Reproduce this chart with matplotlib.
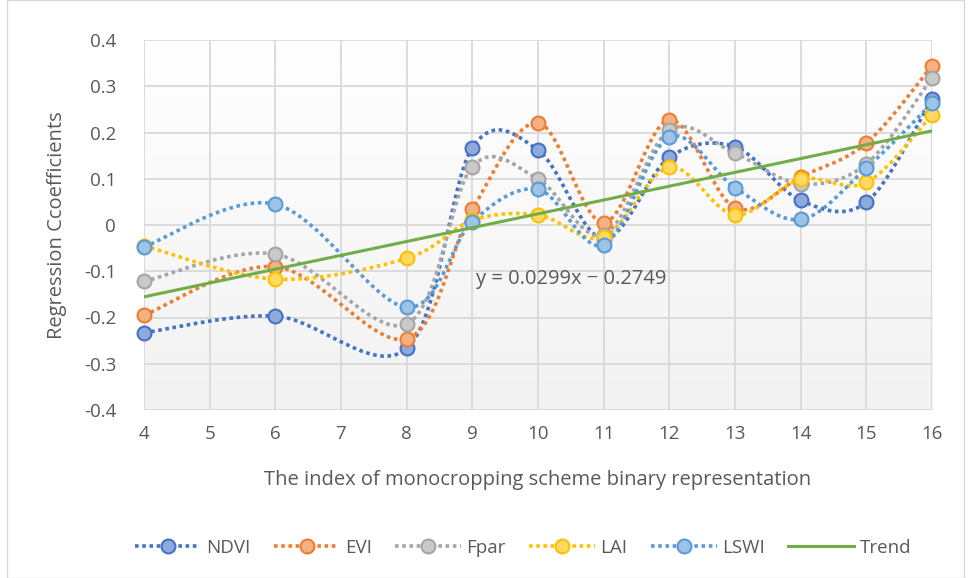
import numpy as np
import matplotlib.pyplot as plt
from matplotlib.patches import Rectangle
from matplotlib.lines import Line2D
from matplotlib.colors import LinearSegmentedColormap

plt.rcParams['font.family'] = ['Open Sans', 'DejaVu Sans']

# index of monocropping scheme
x_idx = [4, 6, 8, 9, 10, 11, 12, 13, 14, 15, 16]

ndvi = [-0.233, -0.197, -0.267, 0.167, 0.162, -0.030, 0.146, 0.169, 0.053, 0.049, 0.272]
evi = [-0.195, -0.090, -0.246, 0.034, 0.221, 0.005, 0.227, 0.037, 0.104, 0.177, 0.344]
fpar = [-0.122, -0.063, -0.214, 0.126, 0.099, -0.022, 0.205, 0.155, 0.089, 0.132, 0.318]
lai = [-0.045, -0.117, -0.072, 0.010, 0.022, -0.026, 0.125, 0.022, 0.099, 0.092, 0.238]
lswi = [-0.047, 0.045, -0.178, 0.007, 0.077, -0.043, 0.190, 0.081, 0.012, 0.123, 0.263]

trend_slope = 0.0299
trend_intercept = -0.2749

names = ['NDVI', 'EVI', 'Fpar', 'LAI', 'LSWI']
series = [ndvi, evi, fpar, lai, lswi]
colors = ['#4472C4', '#ED7D31', '#A5A5A5', '#FFC000', '#5B9BD5']
faces = ['#8EA9DB', '#F4B183', '#C9C9C9', '#FFD966', '#9DC3E6']
x_ticks = list(range(4, 17))
y_ticks = [0.4, 0.3, 0.2, 0.1, 0, -0.1, -0.2, -0.3, -0.4]


def smooth(xs, ys, n=30):
    # excel style smoothed line (catmull-rom bezier through the points)
    p = np.column_stack([xs, ys]).astype(float)
    p = np.vstack([p[0], p, p[-1]])
    out = []
    t = np.linspace(0, 1, n)[:, None]
    for i in range(1, len(p) - 2):
        p0, p1, p2, p3 = p[i - 1], p[i], p[i + 1], p[i + 2]
        c1 = p1 + (p2 - p0) / 6
        c2 = p2 - (p3 - p1) / 6
        seg = ((1 - t) ** 3) * p1 + 3 * ((1 - t) ** 2) * t * c1 + 3 * (1 - t) * t ** 2 * c2 + t ** 3 * p2
        out.append(seg if i == 1 else seg[1:])
    out = np.vstack(out)
    return out[:, 0], out[:, 1]


fig = plt.figure(figsize=(9.71, 5.78), dpi=100)
ax = fig.add_axes([144 / 971, 168 / 578, 788 / 971, 370 / 578])

# soft gradient in plot area
grad = np.linspace(1, 0, 100).reshape(-1, 1)
ax.imshow(grad, extent=[4, 16, -0.4, 0.4], aspect='auto',
          cmap=LinearSegmentedColormap.from_list('g', ['#F2F2F2', '#FFFFFF']), zorder=0, origin='upper')

for name, ys, c, fc in zip(names, series, colors, faces):
    sx, sy = smooth(x_idx, ys)
    ax.plot(sx, sy, color=c, lw=2.6, linestyle=(0, (1, 1)), dash_capstyle='butt', zorder=3, clip_on=False)
    ax.plot(x_idx, ys, 'o', ms=10, mfc=fc, mec=c, mew=1.5, zorder=4, clip_on=False)

tx = np.array([4, 16])
ax.plot(tx, trend_slope * tx + trend_intercept, color='#70AD47', lw=2.2, zorder=5)
ax.text(9.05, -0.117, 'y = 0.0299x \u2212 0.2749', fontsize=14.5, color='#595959', va='center')

ax.set_xlim(4, 16)
ax.set_ylim(-0.4, 0.4)
ax.set_xticks(x_ticks)
ax.set_yticks(y_ticks)
ax.set_yticklabels([('%g' % v) for v in y_ticks])
ax.grid(True, color='#D9D9D9', lw=1.3, zorder=1)
ax.set_axisbelow(True)
for s in ax.spines.values():
    s.set_visible(False)
ax.tick_params(length=0, labelsize=13.5, labelcolor='#595959')
ax.tick_params(axis='x', pad=11)
ax.tick_params(axis='y', pad=20)
ax.set_xlabel('The index of monocropping scheme binary representation', fontsize=14.5, color='#595959', labelpad=19)
ax.set_ylabel('Regression Ccoefficients', fontsize=14.5, color='#595959', labelpad=12)

handles = []
for name, c, fc in zip(names, colors, faces):
    handles.append(Line2D([], [], color=c, lw=2.6, linestyle=(0, (1, 1)), marker='o', ms=10, mfc=fc, mec=c, mew=1.5, label=name))
handles.append(Line2D([], [], color='#70AD47', lw=2.2, label='Trend'))
fig.legend(handles=handles, loc='center', bbox_to_anchor=(523 / 971, 1 - 548 / 578), ncol=6, frameon=False,
           fontsize=13.5, labelcolor='#595959', handlelength=3.5, handletextpad=0.3, columnspacing=1.25)

fig.patches.append(Rectangle((7 / 971, 0), 1 - 14 / 971, 1, transform=fig.transFigure, fill=False, edgecolor='#D9D9D9', lw=1))

fig.savefig('out.png', dpi=100)
